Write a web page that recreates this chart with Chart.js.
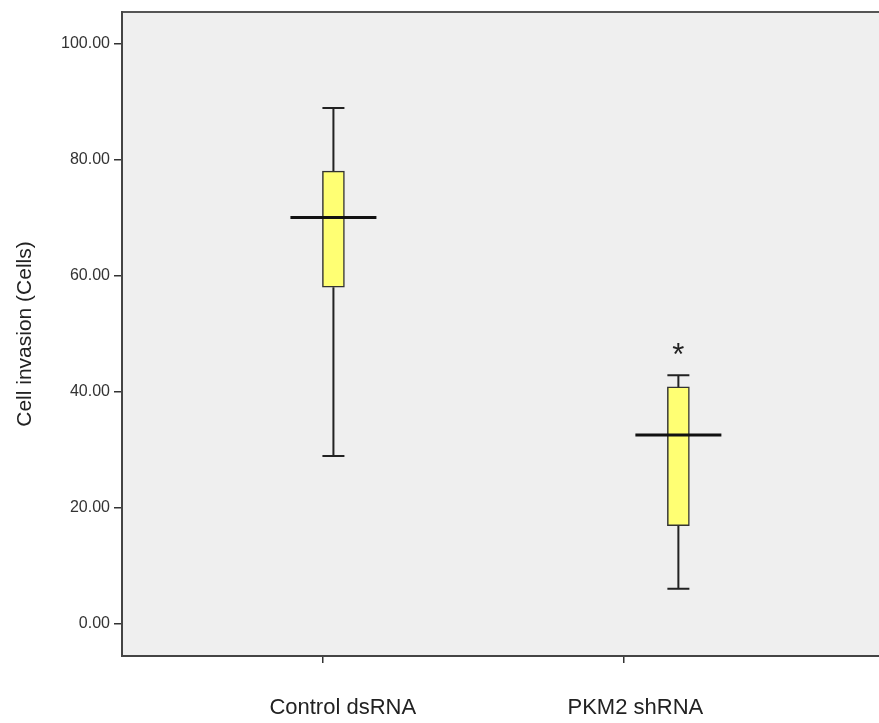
<!DOCTYPE html>
<html>
<head>
<meta charset="utf-8">
<script src="https://cdn.jsdelivr.net/npm/chart.js@4.4.1/dist/chart.umd.min.js"></script>
<style>
  html, body { margin: 0; padding: 0; background: #fff; }
  #wrap { width: 879px; height: 723px; }
</style>
</head>
<body>
<div id="wrap"><canvas id="chart"></canvas></div>
<script>
const groups = ['Control dsRNA', 'PKM2 shRNA'];
const groupPos = [1.037, 2.183];   // box position on the x axis
const labelPos = [1.068, 2.04];    // where the group names sit
const axisTicks = [1, 2];
const whiskerLow = [28.9, 6.0];
const quartile1 = [58.0, 16.9];
const medians = [70.0, 32.5];
const quartile3 = [78.0, 40.8];
const whiskerHigh = [88.9, 42.8];
const sigMarks = ['', '*'];
const sigLevel = [null, 47.1];
const yTicks = [0, 20, 40, 60, 80, 100];

const BOX_W = 22;
const MEDIAN_W = 86;

const boxExtras = {
    id: 'boxExtras',
    beforeDraw(chart) {
        const { ctx, chartArea: a } = chart;
        ctx.save();
        ctx.fillStyle = '#efefef';
        ctx.fillRect(a.left, a.top, a.right - a.left, a.bottom - a.top);
        ctx.strokeStyle = '#555';
        ctx.lineWidth = 2;
        ctx.beginPath();
        ctx.moveTo(a.left, a.top);
        ctx.lineTo(a.right, a.top);
        ctx.stroke();
        ctx.restore();
    },
    beforeDatasetsDraw(chart) {
        const { ctx, scales: { x, y } } = chart;
        ctx.save();
        ctx.strokeStyle = '#222';
        ctx.lineWidth = 2;
        groups.forEach((g, i) => {
            const cx = x.getPixelForValue(groupPos[i]);
            const yLo = y.getPixelForValue(whiskerLow[i]);
            const yHi = y.getPixelForValue(whiskerHigh[i]);
            ctx.beginPath();
            ctx.moveTo(cx, yHi); ctx.lineTo(cx, y.getPixelForValue(quartile3[i]));
            ctx.moveTo(cx, yLo); ctx.lineTo(cx, y.getPixelForValue(quartile1[i]));
            ctx.moveTo(cx - BOX_W / 2, yHi); ctx.lineTo(cx + BOX_W / 2, yHi);
            ctx.moveTo(cx - BOX_W / 2, yLo); ctx.lineTo(cx + BOX_W / 2, yLo);
            ctx.stroke();
        });
        ctx.restore();
    },
    afterDatasetsDraw(chart) {
        const { ctx, scales: { x, y } } = chart;
        ctx.save();
        ctx.strokeStyle = '#111';
        ctx.lineWidth = 3;
        groups.forEach((g, i) => {
            const cx = x.getPixelForValue(groupPos[i]);
            const ym = y.getPixelForValue(medians[i]);
            ctx.beginPath();
            ctx.moveTo(cx - MEDIAN_W / 2, ym);
            ctx.lineTo(cx + MEDIAN_W / 2, ym);
            ctx.stroke();
            if (sigMarks[i]) {
                ctx.fillStyle = '#222';
                ctx.font = '31px "Liberation Sans", Arial, sans-serif';
                ctx.textAlign = 'center';
                ctx.textBaseline = 'middle';
                ctx.fillText(sigMarks[i], cx, y.getPixelForValue(sigLevel[i]) + 6);
            }
        });
        ctx.restore();
    },
};

const font = '"Liberation Sans", Arial, sans-serif';

new Chart(document.getElementById('chart'), {
    type: 'bar',
    data: {
        datasets: [{
            data: groups.map((g, i) => ({ x: groupPos[i], y: [quartile1[i], quartile3[i]] })),
            backgroundColor: '#ffff73',
            borderColor: '#333',
            borderWidth: 1.5,
            borderSkipped: false,
            barThickness: BOX_W,
        }],
    },
    options: {
        responsive: true,
        maintainAspectRatio: false,
        animation: false,
        layout: { padding: { top: 12, right: 0, left: 0, bottom: 0 } },
        plugins: { legend: { display: false }, tooltip: { enabled: false } },
        scales: {
            x: {
                type: 'linear',
                offset: false,
                min: 0.3346,
                max: 2.8495,
                afterBuildTicks: (s) => { s.ticks = axisTicks.map((v) => ({ value: v })); },
                ticks: { display: false },
                grid: { offset: false, drawOnChartArea: false, drawTicks: true, tickLength: 7, color: '#333', lineWidth: 1.5 },
                border: { color: '#444', width: 2 },
                afterFit: (s) => { s.height = 20; },
            },
            x2: {
                type: 'linear',
                position: 'bottom',
                offset: false,
                min: 0.3346,
                max: 2.8495,
                afterBuildTicks: (s) => { s.ticks = labelPos.map((v) => ({ value: v })); },
                ticks: {
                    autoSkip: false,
                    maxRotation: 0,
                    padding: 19,
                    color: '#222',
                    font: { family: font, size: 22 },
                    callback: (v, i) => groups[i],
                },
                grid: { offset: false, display: false, drawTicks: false },
                border: { display: false },
                afterFit: (s) => { s.height = 47; },
            },
            y: {
                min: -5.59,
                max: 105.45,
                afterBuildTicks: (s) => { s.ticks = yTicks.map((v) => ({ value: v })); },
                ticks: {
                    padding: 4,
                    color: '#333',
                    font: { family: font, size: 16, lineHeight: 1 },
                    callback: (v) => Number(v).toFixed(2),
                },
                grid: { drawOnChartArea: false, tickLength: 8, color: '#333', lineWidth: 1.5 },
                border: { color: '#444', width: 2 },
                title: {
                    display: true,
                    text: 'Cell invasion (Cells)',
                    color: '#222',
                    font: { family: font, size: 21 },
                    padding: { top: 13 },
                },
                afterFit: (s) => { s.width = 122; },
            },
        },
    },
    plugins: [boxExtras],
});
</script>
</body>
</html>
